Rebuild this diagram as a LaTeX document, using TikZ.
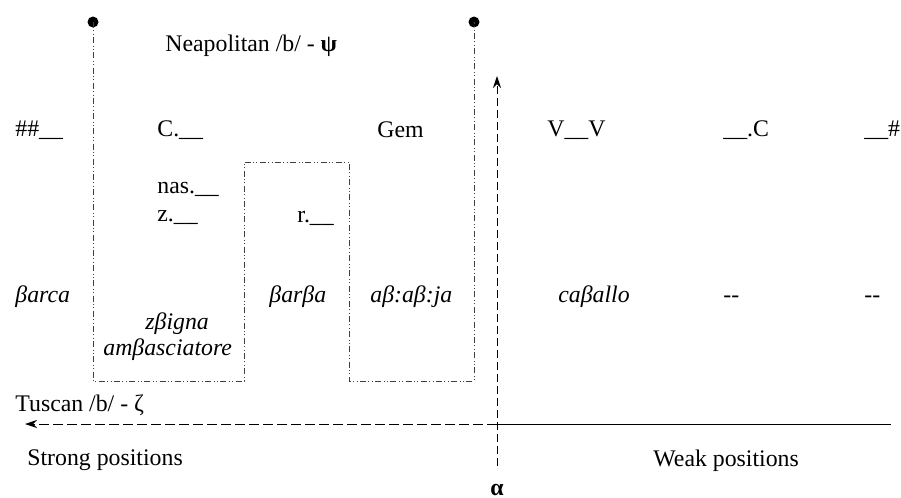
\documentclass[tikz,border=0pt]{standalone}
\usepackage{fontspec}
\setmainfont{Liberation Serif}
\usetikzlibrary{arrows.meta,positioning}

\begin{document}
\begin{tikzpicture}[
        x=0.5pt, y=-0.5pt,
        every node/.style={font=\fontsize{11.9}{13}\selectfont, inner sep=0pt},
        lbl/.style={anchor=west},
        form/.style={anchor=west, font=\fontsize{11.9}{13}\selectfont\itshape},
        pin/.style={circle, fill=black, minimum size=5.5pt},
        zone/.style={draw=black!75, line width=0.5pt, dash pattern=on 3pt off 1.2pt on 0.5pt off 1.2pt on 0.5pt off 1.2pt},
        vaxis/.style={line width=0.5pt, dash pattern=on 4pt off 2pt},
        haxis/.style={line width=0.5pt, dash pattern=on 5pt off 2pt},
    ]
        \useasboundingbox (0,0) rectangle (901,498);

        % Neapolitan zone
        \node[pin] (pinL) at (93,22) {};
        \node[pin] (pinR) at (474,22) {};
        \coordinate (zA) at (93,381);
        \coordinate (zB) at (244,381);
        \coordinate (zC) at (244,162);
        \coordinate (zD) at (349,162);
        \coordinate (zE) at (349,381);
        \coordinate (zF) at (474,381);
        \draw[zone] (pinL.center) -- (zA) -- (zB) -- (zC) -- (zD) -- (zE) -- (zF) -- (pinR.center);
        \node[lbl] (neap) at (165,46) {Neapolitan /b/ - \textbf{ψ}};

        % axes
        \coordinate (orig) at (497,424);
        \coordinate (alphaTop) at (497,76);
        \coordinate (alphaBot) at (497,466);
        \coordinate (tuscEnd) at (25,424);
        \coordinate (weakEnd) at (891,424);
        \draw[vaxis,-{Stealth[length=6pt,width=4pt]}] (alphaBot) -- (alphaTop);
        \draw[haxis,-{Stealth[length=6pt,width=4pt]}] (orig) -- (tuscEnd);
        \draw[line width=0.5pt] (orig) -- (weakEnd);
        \node (alpha) at (497,490) {\textbf{α}};

        % contexts
        \node[lbl] (ctx1) at (15,130) {\#\#\_\_};
        \node[lbl] (ctx2) at (157,130) {C.\_\_};
        \node[lbl] (ctx3) at (377,130) {Gem};
        \node[lbl] (ctx4) at (547,130) {V\_\_V};
        \node[lbl] (ctx5) at (723,130) {\_\_.C};
        \node[lbl] (ctx6) at (864,130) {\_\_\#};
        \node[lbl] (nas) at (157,189) {nas.\_\_};
        \node[lbl] (zctx) at (157,218) {z.\_\_};
        \node[lbl] (rctx) at (297,218) {r.\_\_};

        % forms
        \node[form] (f1) at (15,297) {βarca};
        \node[form] (f2) at (269,297) {βarβa};
        \node[form] (f3) at (370,297) {aβ:aβ:ja};
        \node[form] (f4) at (558,297) {caβallo};
        \node[lbl] (f5) at (723,297) {\vphantom{caβallo}-{}-};
        \node[lbl] (f6) at (864,297) {\vphantom{caβallo}-{}-};
        \node[form] (f7) at (145,324) {zβigna};
        \node[form] (f8) at (103,350) {amβasciatore};

        \node[lbl] (tusc) at (15,405) {Tuscan /b/ - ζ};
        \node[lbl] (strong) at (27,460) {Strong positions};
        \node[lbl] (weak) at (653,461) {Weak positions};
    \end{tikzpicture}
\end{document}
